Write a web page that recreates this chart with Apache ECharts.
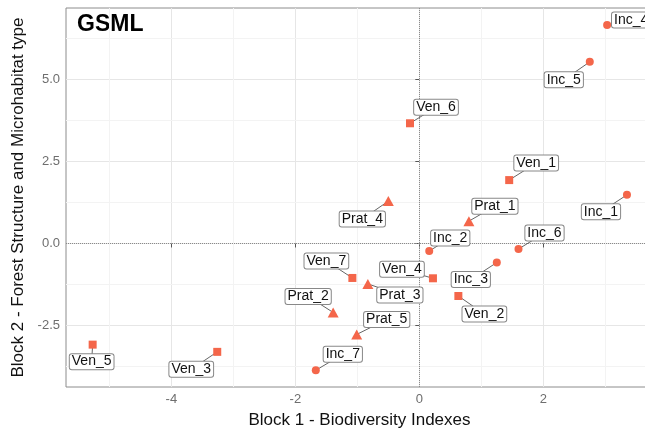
<!DOCTYPE html>
<html lang="en">
  <head>
    <meta charset="UTF-8" />
    <title>GSML</title>
    <script src="https://cdn.jsdelivr.net/npm/echarts@6/dist/echarts.min.js"></script>
    <style>
      html, body { margin: 0; padding: 0; background: #fff; }
    </style>
  </head>
  <body>
    <div id="main" style="width: 645px; height: 431px"></div>
    <script type="text/javascript">
      // site scores on the two blocks
      const siteNames = ["Inc_1", "Inc_2", "Inc_3", "Inc_4", "Inc_5", "Inc_6", "Inc_7",
        "Ven_1", "Ven_2", "Ven_3", "Ven_4", "Ven_5", "Ven_6", "Ven_7",
        "Prat_1", "Prat_2", "Prat_3", "Prat_4", "Prat_5"];
      const block1 = [3.35, 0.16, 1.25, 3.03, 2.75, 1.60, -1.67,
        1.45, 0.63, -3.26, 0.22, -5.27, -0.15, -1.08,
        0.80, -1.39, -0.83, -0.50, -1.01];
      const block2 = [1.48, -0.23, -0.58, 6.65, 5.53, -0.17, -3.86,
        1.93, -1.60, -3.30, -1.06, -3.08, 3.66, -1.05,
        0.68, -2.10, -1.23, 1.29, -2.77];

      const xTicks = [-4, -2, 0, 2];
      const yTicks = [-2.5, 0, 2.5, 5];
      const xMinor = [-5, -3, -1, 1, 3];
      const yMinor = [-3.75, -1.25, 1.25, 3.75, 6.25];

      // where each label box sits relative to its point (px), repel style
      const labelDx = [-26, 21, -26, 24, -26, 26, 27,
        27, 26, -26, -31, -1, 26, -26,
        26, -25, 32, -26, 30];
      const labelDy = [17, -13, 17, -5, 18, -16, -16,
        -17, 18, 17.5, -9, 17, -16, -17,
        -15, -16, 11, 18, -15];

      const pointColor = "#f4664a";
      const font = "Liberation Sans";

      function shapeOf(name) {
        if (name.startsWith("Inc")) return { symbol: "circle", symbolSize: 8 };
        if (name.startsWith("Ven")) return { symbol: "rect", symbolSize: 8 };
        return { symbol: "triangle", symbolSize: [11, 10] };
      }

      const points = siteNames.map((name, i) => {
        const s = shapeOf(name);
        return { name: name, value: [block1[i], block2[i]], symbol: s.symbol, symbolSize: s.symbolSize };
      });
      const coords = siteNames.map((name, i) => [block1[i], block2[i]]);

      const minorLines = xMinor.map((v) => ({ xAxis: v })).concat(yMinor.map((v) => ({ yAxis: v })));

      // segment from the point to the centre of its box; the box hides the inner part
      function renderSegment(params, api) {
        const p = api.coord([api.value(0), api.value(1)]);
        const i = params.dataIndex;
        return {
          type: "line",
          shape: { x1: p[0], y1: p[1], x2: p[0] + labelDx[i], y2: p[1] + labelDy[i] },
          style: { stroke: "#666", lineWidth: 1 }
        };
      }

      function renderLabel(params, api) {
        const p = api.coord([api.value(0), api.value(1)]);
        const i = params.dataIndex;
        return {
          type: "text",
          x: p[0] + labelDx[i],
          y: p[1] + labelDy[i],
          style: {
            text: siteNames[i], font: "14px " + font, fill: "#111",
            align: "center", verticalAlign: "middle", lineHeight: 14,
            backgroundColor: "#fff", borderColor: "#888", borderWidth: 1, borderRadius: 2,
            padding: [1, 2, 0, 2]
          }
        };
      }

      let options = {
        animation: false,
        backgroundColor: "#fff",
        textStyle: { fontFamily: font },
        grid: {
          left: 66, right: -8, top: 8, bottom: 44,
          outerBoundsMode: "none", containLabel: false,
          show: true, borderColor: "#8c8c8c", borderWidth: 1, backgroundColor: "#fff"
        },
        graphic: [{
          type: "text", left: 77, top: 13,
          style: { text: "GSML", font: "bold 23px " + font, fill: "#000" }
        }],
        xAxis: {
          type: "value", min: -5.7, max: 3.77,
          name: "Block 1 - Biodiversity Indexes",
          nameLocation: "middle", nameGap: 25,
          nameTextStyle: { fontSize: 17, color: "#111" },
          axisLine: { show: false },
          axisTick: { show: true, length: 4, customValues: xTicks, lineStyle: { color: "#555" } },
          axisLabel: { customValues: xTicks, fontSize: 13, color: "#6e6e6e", margin: 6 },
          splitLine: { show: true, lineStyle: { color: "#e6e6e6" } }
        },
        yAxis: {
          type: "value", min: -4.37, max: 7.17,
          name: "Block 2 - Forest Structure and Microhabitat type",
          nameLocation: "middle", nameGap: 33,
          nameTextStyle: { fontSize: 17, color: "#111" },
          axisLine: { show: false },
          axisTick: { show: true, length: 4, customValues: yTicks, lineStyle: { color: "#555" } },
          axisLabel: {
            customValues: yTicks, fontSize: 13, color: "#6e6e6e", margin: 6,
            formatter: (v) => v.toFixed(1)
          },
          splitLine: { show: true, lineStyle: { color: "#e6e6e6" } }
        },
        series: [
          {
            // minor grid and the dotted zero lines, kept under everything else
            type: "scatter", data: [], z: 1, silent: true,
            markLine: {
              z: 1, silent: true, symbol: ["none", "none"], label: { show: false },
              data: minorLines.map((d) => Object.assign({}, d, { lineStyle: { color: "#f3f3f3", type: "solid", width: 1 } }))
                .concat([
                  { xAxis: 0, lineStyle: { color: "#8a8a8a", type: "dotted", width: 1 } },
                  { yAxis: 0, lineStyle: { color: "#8a8a8a", type: "dotted", width: 1 } }
                ])
            }
          },
          {
            type: "custom", z: 2, silent: true,
            data: coords, encode: { x: 0, y: 1 },
            renderItem: renderSegment
          },
          {
            type: "scatter", z: 3,
            data: points,
            itemStyle: { color: pointColor, opacity: 1 }
          },
          {
            type: "custom", z: 4, silent: true,
            data: coords, encode: { x: 0, y: 1 },
            renderItem: renderLabel
          }
        ]
      };

      let myChart = echarts.init(document.getElementById("main"));
      myChart.setOption(options);
    </script>
  </body>
</html>
